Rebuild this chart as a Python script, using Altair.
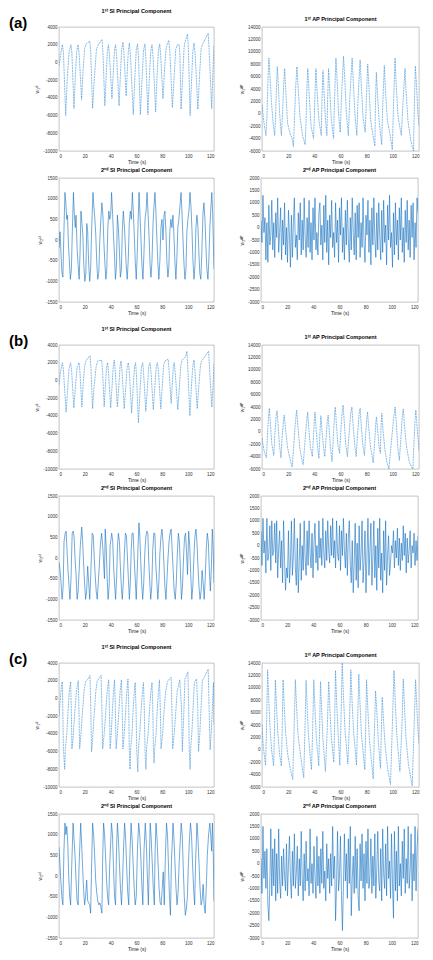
import altair as alt
import pandas as pd

FONT = "Liberation Sans"

# ---------------- (a) ----------------
a_si1_t = [0, 1.2, 2.6, 3.4, 5.2, 6.5, 7.8, 9.3, 10.0, 11.6, 12.8, 13.8, 14.8, 15.6, 17.5,
           18.7, 19.8, 21.0, 23.8, 24.5, 26.0, 27.5, 29.0, 30.5, 33.3, 34.0, 35.5,
           36.7, 37.5, 38.3, 39.0, 41.0, 42.2, 43.0, 43.8, 44.6, 46.5, 47.6, 48.5, 49.5, 50.2, 52.0,
           53.0, 53.8, 54.5, 55.3, 57.5, 58.8, 59.8, 60.8, 61.5, 63.0, 64.3, 65.4, 66.5, 67.2, 68.8,
           70.0, 71.0, 72.0, 72.8, 74.8, 76.0, 77.0, 78.0, 78.7, 80.5, 81.8, 83.0, 85.0, 85.8, 87.8,
           89.2, 90.3, 91.5, 93.0, 93.6, 94.5, 95.8, 96.8, 97.5, 99.5, 100.2, 101.5,
           102.7, 103.6, 104.5, 105.4, 107.5, 108.8, 110.0, 111.0, 115.5, 116.2, 118.2, 119.2, 120.0]
a_si1_v = [-400, 800, 2000, 1200, -6000, -1500, 1200, 2000, 1000, -5200, -1000, 1300, 2000, 1000, -4200,
           -800, 1500, 2100, 2400, 1400, -5200, -1500, 1500, 2000, 2600, 1200, -4900,
           -1000, 1300, 2000, 1000, -4100, -500, 1400, 2000, 800, -4900, -1200, 1500, 2300, 1200, -3800,
           -500, 1500, 2200, 900, -5900, -1500, 1400, 2100, 800, -5900, -1800, 1300, 2100, 600, -5900,
           -1500, 1200, 2000, 700, -5600, -1200, 1400, 2100, 800, -4100, -600, 1700, 2500, 1200, -5100,
           -1500, 1400, 2000, 2000, 800, -5300, -1500, 1600, 2300, 3200, 1500, -6000,
           -1800, 1200, 2200, 1000, -5300, -1500, 1500, 2000, 3300, 1500, -5200, -1000, 2000]

a_ap1_t = [0, 1.2, 3.0, 3.8, 4.5, 5.3, 6.0, 7.2, 8.5, 9.7, 10.4, 11.0, 11.7, 12.4, 13.5, 14.8,
           15.6, 16.4, 17.3, 18.0, 19.5, 21.5, 23.0, 24.0, 24.8, 25.8, 26.7, 27.4, 29.0, 31.0, 33.0,
           33.7, 34.3, 35.0, 35.8, 37.5, 39.4, 40.0, 40.6, 41.2, 42.0, 43.5, 45.3,
           45.8, 46.6, 47.3, 48.5, 49.6, 50.1, 50.9, 51.7, 53.0, 54.7,
           55.4, 56.5, 57.3, 58.5, 59.8, 60.8, 62.3, 63.2, 64.5, 66.0,
           67.2, 68.9, 69.7, 71.0, 72.5, 73.5, 75.0, 75.8, 77.2, 78.9,
           79.8, 80.8, 81.6, 83.0, 85.5, 86.3, 86.7, 87.4, 88.2, 89.5, 91.5,
           92.4, 93.5, 94.3, 95.8, 98.0, 99.6, 100.6, 101.7, 102.5, 104.0, 106.5,
           107.8, 109.3, 110.0, 111.5, 113.5, 114.6, 115.8, 116.4, 117.2, 118.0, 119.2, 120.0]
a_ap1_v = [1500, -1000, -3500, -500, 5000, 9000, 6500, 2000, -1500, -3500, -500, 4000, 7600, 5000, 0, -3500,
           -500, 4000, 7300, 4500, -1500, -3200, -4000, -5300, -1000, 4500, 7600, 5000, -500, -3500, -5000,
           -1000, 4000, 7300, 4000, -2000, -4000, -500, 4000, 7300, 4000, -1000, -3500,
           2000, 7000, 4000, -1000, -3500, 2000, 7300, 4000, -1000, -4000,
           2000, 9000, 6000, 0, -3000, 3000, 9300, 6000, 0, -3500,
           3000, 9000, 5500, 0, -3500, 3000, 8700, 5000, -500, -3000,
           2500, 8000, 5000, -1000, -4400, -5200, 1500, 6700, 3500, -1000, -5000,
           2000, 7800, 4000, -1000, -3500, -5800, 2000, 9000, 5000, -500, -3500,
           2000, 7300, 4000, -1000, -4000, -5100, -6000, 1000, 7700, 5000, 0, -2000]

a_si2_t = [0, 0.8, 1.5, 2.3, 3.0, 3.8, 4.6, 5.3, 6.0, 6.6, 7.3, 8.0, 8.8, 9.6, 10.4, 11.2, 11.9, 12.6,
           13.2, 14.0, 14.8, 15.6, 16.3, 17.0, 17.8, 18.5, 19.2, 20.0, 20.8, 21.5, 22.2, 23.0, 23.8,
           24.5, 25.3, 26.3, 27.0, 27.8, 28.5, 29.3, 30.0, 30.8, 31.6, 32.4, 33.2, 34.0, 34.8, 35.6,
           36.3, 37.0, 37.8, 38.6, 39.3, 40.0, 40.7, 41.4, 42.2, 43.0, 43.7, 44.5, 45.2, 46.0, 46.8,
           47.5, 48.3, 49.0, 49.8, 50.5, 51.3, 52.0, 52.8, 53.6, 54.4, 55.2, 56.0, 56.8, 57.5, 58.3,
           59.0, 59.8, 60.5, 61.3, 62.0, 62.7, 63.5, 64.2, 65.0, 65.8, 66.6, 67.4, 68.2, 69.0, 69.7,
           70.5, 71.2, 72.0, 72.8, 73.5, 74.3, 75.0, 75.8, 76.6, 77.3, 78.1, 78.9, 79.7, 80.5, 81.3,
           82.0, 82.8, 83.5, 84.3, 85.0, 85.8, 86.6, 87.4, 88.2, 89.0, 89.7, 90.5, 91.3, 92.0, 92.8,
           93.6, 94.5, 95.3, 96.0, 96.8, 97.5, 98.3, 99.0, 99.8, 100.6, 101.4, 102.2, 103.0, 103.7,
           104.5, 105.3, 106.0, 106.8, 107.6, 108.3, 109.0, 109.8, 110.6, 111.4, 112.2, 113.0, 113.8,
           114.5, 115.3, 116.0, 116.8, 117.6, 118.3, 119.0, 119.6, 120.0]
a_si2_v = [-200, 200, -300, -800, -900, 200, 1150, 900, 500, 600, -100, -500, -950, -700, 300, 1150, 600, 300,
           600, -200, -600, -950, -300, 700, 400, 100, -600, -1000, -800, 400, 200, -600, -1000,
           -700, 300, 1150, 800, 500, 100, -600, -950, -800, 0, 500, 900, 600, -100, -600,
           -950, -700, 300, 700, 500, 600, 1150, 700, 100, -400, -950, -600, 600, 300, -300,
           -900, -700, 200, 700, 400, -100, -600, -950, -500, 400, 700, 500, 1150, 700, 100,
           -500, -950, -400, 500, 1150, 600, 0, -600, -950, -300, 500, 700, 1150, 600, 100,
           -600, -900, -500, 400, 800, 1150, 700, 0, -600, -950, -500, 300, 500, 0, 600,
           700, 200, -500, -900, -700, 200, 500, 300, 600, 100, -500, -950, -400, 300, 500,
           800, 1150, 600, 0, -600, -950, -700, 200, 500, 700, 1150, 800, 200, -500,
           -950, -600, 300, 600, 300, -300, -800, -950, -300, 600, 900, 500, -200,
           -700, -950, -500, 300, 800, 1150, 600, -200, -700]

ap2_t = [round(i * 0.75, 2) for i in range(161)]
a_ap2_v = [300, -600, 1300, -200, 400, -1300, 200, -1400, 900, -700,
           -300, 1100, -900, 200, -1200, 600, -400, 1200, -1000, -200,
           800, -1300, 300, -700, 1000, -1100, 0, -1400, 700, -300,
           -1600, 500, -1200, 200, 1200, -800, -300, -1300, 600, -500,
           1000, -1100, 300, -900, 1200, -400, -1200, 400, -800, 1100,
           -1000, 200, -1300, 800, -500, 1200, -900, -200, -1100, 600,
           1000, -700, 100, -1300, 900, -600, 1300, -1000, 300, -1500,
           500, -400, 1100, -800, -200, -1200, 1000, -600, 300, -1400,
           800, -300, 1200, -1000, 0, -1300, 700, -700, 1100, -500,
           -1400, 400, -900, 1200, -200, -1100, 600, -1300, 900, -400,
           1000, -1200, 200, -800, 1200, -600, -1400, 500, -300, 1100,
           -1000, 300, -1500, 800, -700, 1200, -400, -1200, 600, -900,
           1000, -300, -1300, 700, -1000, 1100, -600, 100, -1500, 900,
           -500, 1300, -800, -200, -1600, 600, -1100, 1000, -700, 300,
           -1300, 800, -500, 1200, -1000, 0, -1400, 700, -600, 1100,
           -900, 300, -1200, 900, -400, 1000, -1300, 200, -800, 1200,
           600]

# ---------------- (b) ----------------
b_si1_t = [0, 1.2, 2.6, 3.4, 5.5, 6.8, 7.8, 9.0, 9.8, 11.5, 12.8, 14.0, 15.5, 16.2, 17.7,
           18.8, 19.8, 20.8, 24.0, 24.7, 26.0, 27.3, 28.8, 30.0, 33.0, 33.7, 35.0,
           36.0, 36.8, 37.6, 38.3, 40.0, 41.2, 42.0, 42.8, 43.5, 45.2, 46.4, 47.2, 48.0, 48.8, 50.5,
           51.7, 52.7, 53.7, 54.5, 56.2, 57.5, 58.5, 59.3, 60.0, 61.5, 62.8, 63.8, 64.8, 65.5, 67.2,
           68.5, 69.5, 70.5, 71.3, 73.0, 74.3, 75.3, 76.2, 77.0, 78.8, 80.0, 81.0, 82.0, 84.5, 85.2, 86.8,
           87.8, 88.5, 89.2, 90.0, 92.0, 93.2, 94.3, 95.3, 98.0, 99.0, 99.7, 101.3,
           102.5, 103.5, 104.5, 105.3, 107.0, 108.3, 109.5, 110.5, 115.8, 116.5, 118.3, 119.3, 120.0]
b_si1_v = [-500, 1000, 2000, 1200, -3600, -800, 1400, 2000, 1000, -3100, -500, 1500, 2000, 1000, -3000,
           -200, 1600, 2200, 2800, 1500, -3200, -500, 1600, 2200, 2300, 1200, -3000,
           -300, 1400, 2000, 1000, -3100, -400, 1600, 2300, 1200, -3000, -400, 1500, 2200, 1000, -3200,
           -800, 1500, 2000, 800, -3700, -500, 1500, 2000, 500, -4800, -1000, 1500, 2000, 800, -3500,
           -700, 1600, 2000, 800, -3300, -500, 1600, 2000, 1000, -3200, -500, 1700, 2200, 2400, 1200, -2600,
           -200, 1500, 2000, 800, -3300, -800, 1700, 2300, 2700, 3300, 1500, -4000,
           -800, 1500, 2300, 1000, -3200, -500, 1700, 2200, 3300, 1500, -3000, -500, 2000]

b_ap1_t = [0, 1.5, 3.3, 4.2, 5.0, 5.6, 6.2, 7.5, 9.0, 9.8, 10.8, 11.5, 12.2, 13.3, 14.5,
           15.3, 16.3, 17.0, 17.8, 19.5, 21.5, 23.0, 24.0, 25.5, 26.5, 27.2, 28.8, 30.5, 31.5,
           32.5, 34.0, 34.9, 35.6, 37.0, 38.5, 39.3, 40.0, 40.5, 41.2, 42.5, 43.5,
           44.2, 45.0, 45.7, 47.0, 48.0, 49.0, 49.9, 50.6, 51.3, 52.5, 53.5,
           54.5, 55.4, 56.0, 56.8, 58.0, 59.3, 60.2, 61.2, 62.0, 62.8, 64.0, 65.3,
           66.5, 67.8, 68.7, 69.5, 70.8, 72.0, 73.0, 74.2, 75.0, 75.8, 77.0, 78.3,
           79.2, 80.0, 80.7, 81.5, 83.0, 85.0, 86.2, 87.0, 87.5, 88.3, 89.5, 90.5,
           91.0, 91.6, 92.4, 94.0, 95.5, 97.0, 98.5, 100.5, 101.8, 102.6, 103.8, 105.0,
           106.0, 107.2, 108.0, 108.8, 110.5, 112.5, 114.5, 115.3, 116.0, 117.0, 117.6, 118.3, 119.2, 120.0]
b_ap1_v = [-1000, -3000, -4200, -500, 2500, 3800, 2000, -2000, -3800, -500, 2500, 3400, 1500, -2000, -4200,
           -1000, 1500, 2700, 800, -2500, -4500, -5700, -3000, 1500, 3500, 1500, -2500, -4500, -5300,
           -2500, 1500, 3200, 1000, -2500, -4000, -1000, 2000, 3200, 1000, -2500, -4300,
           -500, 2600, 500, -2500, -4000, -1000, 1800, 2700, 500, -3000, -4800,
           -1000, 2500, 4000, 1500, -2000, -3500, 0, 3000, 4300, 1800, -2000, -4000,
           -500, 3000, 4000, 1500, -2000, -4000, -500, 2800, 3800, 1200, -2000, -3800,
           -500, 2000, 3200, 800, -2500, -5000, -1500, 1500, 2400, 500, -2500, -3500,
           1000, 3000, 500, -3000, -5000, -6000, -2500, 2000, 4000, 1500, -2500, -4600,
           -1500, 2500, 3700, 1200, -2500, -4800, -5800, -6000, -2500, 2000, 3500, 1500, -1000, -3000]

b_si2_t = [0, 0.8, 1.6, 2.4, 3.2, 3.9, 4.8, 5.5, 6.2, 7.0, 7.8, 8.5, 9.3, 10.2, 11.0, 11.7, 12.4, 13.2,
           14.0, 14.8, 15.6, 16.5, 17.6, 18.3, 19.0, 19.8, 20.6, 21.4, 22.2, 23.0, 23.8, 24.6, 25.7,
           26.5, 27.3, 28.0, 28.8, 29.6, 30.4, 31.2, 32.0, 33.0, 33.8, 34.5, 35.2, 35.8, 36.5, 37.3,
           38.0, 38.8, 39.6, 40.8, 41.6, 42.3, 43.0, 43.8, 44.6, 45.3, 46.0, 46.8, 47.5, 48.3, 49.0,
           49.8, 50.6, 51.4, 52.2, 53.0, 53.7, 54.5, 55.2, 55.9, 56.6, 57.4, 58.2, 59.0, 59.8, 60.5,
           61.2, 61.9, 62.6, 63.3, 64.0, 64.8, 65.6, 66.4, 67.2, 68.0, 68.8, 69.5, 70.3, 71.0, 71.8,
           72.6, 73.4, 74.2, 75.0, 75.8, 76.5, 77.3, 78.1, 78.9, 79.7, 80.5, 81.3, 82.0, 82.8, 83.6,
           84.4, 85.2, 86.0, 86.8, 87.6, 88.4, 89.2, 90.0, 90.8, 91.6, 92.4, 93.2, 94.0, 94.8, 95.6,
           96.4, 97.2, 98.0, 98.8, 99.5, 100.4, 101.2, 102.0, 102.8, 103.6, 104.4, 105.2, 106.0,
           106.8, 107.6, 108.4, 109.2, 110.0, 110.8, 111.6, 112.4, 113.2, 114.0, 114.8, 115.6, 116.4,
           117.2, 118.0, 118.7, 119.4, 120.0]
b_si2_v = [-100, -300, -600, -1000, -700, 400, 600, 650, 200, -300, -700, -1000, -500, 600, 650, 500, 0, -400,
           -1000, -800, -300, 300, 750, 400, -100, -600, -1000, -800, -200, -600, -1000, -400, 600,
           550, 0, -400, -800, -1000, -600, -200, 300, 600, 300, -100, -500, 700, 300, -500,
           -1000, -700, 300, 600, 400, -200, -600, -1000, -500, 300, 600, 400, -200, -700, -1000,
           -600, 100, 600, 550, 0, -500, -1000, -600, 200, 600, 600, 0, -500, -1000, -400,
           300, 850, 500, -100, -600, -1000, -600, 100, 500, 650, 600, -100, -600, -1000, -700,
           200, 600, 600, -200, -600, -1000, -600, 100, 500, 700, 400, -200, -700, -1000, -500,
           0, 400, 600, 700, 200, -300, -800, -1000, -600, 100, 600, 400, -300, -1000, -700,
           0, 500, 600, 100, -400, 650, 300, -400, -1000, -700, 0, 500, 700,
           400, -200, -700, -1000, -800, -300, -600, -1000, -500, 200, 600, 400, -300,
           -800, -200, 700, 200, -600]

b_ap2_v = [600, -800, 1100, -300, 200, -1100, 1100, -600, -300, 800,
           -1000, 1000, -400, -200, 900, -700, 1000, -1300, -100, 600,
           -900, 200, -1500, 1000, -600, -1800, -900, -1300, 600, -1500,
           -700, 1000, -1200, -400, 1100, -900, -1600, 300, -1900, -600,
           900, -1400, 0, -1000, 1000, -500, -1200, 600, -800, 1000,
           -300, -900, 500, -1300, 100, 900, -700, 0, -1000, 1000,
           -500, 300, -800, 1100, -300, -900, 600, -600, 1000, -200,
           -700, 800, -400, 1100, -500, 200, -900, 1000, -300, -600,
           800, -1000, 600, -400, 1100, -200, -900, 500, -1200, 300,
           1000, -800, -1500, 200, -1900, -700, 900, -1400, 100, -1700,
           800, -1000, -300, 1000, -1500, -600, 600, -1900, -400, 1100,
           -1200, -200, 900, -1600, -500, 1000, -1300, 0, -1800, 700,
           -900, 1100, -1400, -300, -1900, 600, -1000, 1000, -1600, -400,
           400, -1200, -700, 0, -300, 600, -900, 200, -500, 700,
           -800, 300, -1000, 100, -600, 800, -400, 500, -1100, 300,
           -700, -200, 600, -900, 0, -300, 500, -800, 200, -600,
           400]

# ---------------- (c) ----------------
c_si1_t = [0, 0.9, 1.8, 2.6, 3.4, 4.4, 4.9, 6.0, 7.0, 8.0, 9.0, 9.5, 10.0,
           11.0, 12.2, 13.4, 14.9, 15.4, 16.0, 17.0, 18.2, 19.4, 20.6, 22.5, 24.0, 24.6, 25.2,
           26.3, 27.4, 28.5, 29.5, 31.0, 32.6, 33.2, 33.8, 35.0, 36.2, 37.3, 38.5, 39.0, 39.6,
           40.5, 41.4, 42.2, 43.0, 43.6, 44.2, 45.2, 46.3, 47.3, 48.3, 48.9, 49.5,
           50.5, 51.6, 52.5, 53.4, 54.0, 54.4, 55.0, 55.5, 56.5, 57.3, 58.2, 59.0, 59.6, 60.2, 61.0, 61.5,
           62.5, 63.5, 64.5, 65.4, 66.0, 66.6, 67.3, 67.8, 69.0, 70.0, 71.0, 72.0, 72.6, 73.1, 73.6, 74.1,
           75.2, 76.0, 77.0, 77.8, 78.4, 79.0, 80.2, 81.3, 82.6, 84.0, 85.5, 86.8, 87.4, 88.0,
           89.2, 90.4, 91.5, 93.5, 94.8, 95.5, 96.0, 96.8, 97.5, 99.8, 100.4, 100.8, 101.5, 102.0,
           103.0, 104.0, 104.8, 106.5, 107.4, 108.0, 109.0, 110.0, 111.0, 113.5, 115.5, 116.2, 117.0,
           118.0, 119.0, 119.6, 120.0]
c_si1_v = [-2000, -300, 1300, 1900, -5600, -8000, -5700, -4000, -1500, 800, 1900, -1000, -5700,
           -4200, -1600, 700, 2000, -1000, -5700, -4000, -1500, 800, 1900, 2200, 2600, -1000, -6000,
           -4000, -1500, 800, 1900, 2300, 2600, -1000, -5700, -4000, -1500, 800, 2100, -1000, -5700,
           -3800, -1200, 800, 2100, -1000, -5700, -4000, -1500, 800, 2100, -1000, -5700,
           -4000, -1500, 800, 2200, -1000, -5700, -8000, -5600, -4000, -1500, 600, 1800, -1000, -5800, -8300, -5600,
           -4000, -1500, 600, 1800, -1000, -5800, -8000, -5600, -4000, -1500, 600, 1800, -1000, -5700, -7300, -5600,
           -4000, -1500, 800, 2100, -1000, -5700, -4000, -1500, 800, 1900, 2200, 2400, -1000, -5700,
           -4000, -1500, 800, 2100, -1000, -6000, -4000, -1000, 2200, 3000, -1000, -5800, -8000, -5600,
           -3500, -500, 1800, 2200, -1000, -6000, -4000, -1000, 2000, 2700, 3300, -1000, -5800,
           -3500, -200, 1800, -3000]

c_ap1_t = [0, 1.0, 2.7, 3.4, 4.3, 5.0, 6.0, 7.3, 8.9, 9.5, 10.2, 11.0, 12.0, 13.3, 14.8,
           15.4, 16.1, 16.9, 18.0, 19.5, 21.5, 23.5, 24.5, 25.5, 26.3, 27.5, 29.5, 31.9,
           32.8, 33.7, 34.5, 35.5, 36.8, 37.8, 38.7, 39.6, 40.4, 41.5, 43.4,
           44.0, 44.7, 45.5, 46.5, 48.5, 49.8, 51.0, 51.8, 53.0, 54.9,
           55.5, 56.2, 57.0, 58.2, 59.5, 60.3, 61.3, 62.2, 63.5, 65.6,
           66.8, 67.9, 68.8, 70.0, 72.2, 73.0, 74.0, 74.8, 76.0, 78.6,
           79.2, 79.9, 80.8, 82.0, 83.5, 85.0, 85.8, 86.8, 87.8, 89.0, 90.6,
           91.2, 91.9, 92.8, 94.0, 96.0, 98.2, 99.5, 100.9, 101.8, 103.0, 105.4,
           106.8, 108.0, 108.9, 110.0, 112.0, 114.8, 116.0, 117.4, 118.3, 119.3, 120.0]
c_ap1_v = [4000, 500, -2500, 3000, 12900, 9000, 4000, 0, -2600, 3000, 11300, 7500, 3000, -500, -2600,
           3000, 11300, 7500, 3000, -500, -3000, -4800, 3000, 11300, 7500, 2500, -1000, -4500,
           3000, 11200, 7000, 2500, -1000, -3200, 3000, 11300, 7000, 2000, -2600,
           3000, 11000, 7000, 2000, -3500, 3000, 11000, 7000, 2000, -2000,
           4000, 12800, 8000, 2500, -2500, 4000, 14000, 9000, 3000, -2300,
           4000, 12900, 8000, 3000, -2500, 4000, 12200, 8000, 2500, -3200,
           3000, 11300, 7000, 2000, -1500, -4700, 2000, 9500, 6000, 1000, -3000,
           3000, 8500, 5000, 1000, -3000, -5600, 3000, 12800, 8000, 2500, -3500,
           3000, 11400, 7000, 2000, -2500, -5800, 2000, 11300, 7000, 3000, 1000]

c_si2_t = [0, 0.7, 1.4, 2.2, 3.0, 3.8, 4.6, 5.3, 6.0, 6.8, 7.5, 8.3, 9.0, 9.8, 10.9, 11.6, 12.4,
           13.2, 14.0, 14.8, 15.6, 16.8, 17.5, 18.3, 19.0, 19.8, 20.6, 21.4, 22.2, 23.0, 23.8, 24.5,
           25.2, 26.0, 26.8, 27.6, 28.4, 29.2, 30.0, 30.8, 31.6, 32.4, 33.2, 33.8, 34.5, 35.3, 36.0,
           36.8, 37.6, 38.4, 39.2, 40.0, 40.6, 41.4, 42.2, 43.0, 43.8, 44.5, 45.2, 46.0, 46.8, 47.6,
           48.4, 49.2, 50.0, 50.8, 51.6, 52.4, 53.2, 54.0, 54.8, 55.8, 56.6, 57.4, 58.2, 59.0, 59.8,
           60.8, 61.7, 62.5, 63.3, 64.1, 64.9, 65.8, 66.8, 67.6, 68.4, 69.2, 69.9, 70.6, 71.4, 72.2,
           73.0, 73.8, 74.4, 75.1, 75.9, 76.7, 77.5, 78.3, 79.1, 79.9, 80.7, 81.5, 82.3, 83.2, 84.0,
           84.8, 85.5, 86.3, 87.0, 88.3, 89.0, 89.8, 90.6, 91.4, 92.2, 93.0, 93.8, 94.6, 95.4, 96.2,
           97.0, 97.8, 98.6, 99.4, 100.2, 101.0, 101.8, 102.6, 103.4, 104.2, 105.0, 105.8, 106.8,
           107.6, 108.4, 109.2, 110.0, 110.8, 111.6, 112.4, 113.2, 114.0, 114.8, 115.8, 116.8,
           117.6, 118.2, 118.8, 119.4, 120.0]
c_si2_v = [700, 300, -100, -500, -700, 600, 1280, 1000, 1200, 800, 0, -500, -700, 200, 1280, 900, 500,
           -100, -600, -700, 300, 1280, 800, 200, -300, -700, -500, -100, -600, -650, -700, -900,
           200, 1280, 1000, 500, -100, -400, -600, -700, -650, -750, -900, 400, 1280, 1000, 500,
           -100, -500, -700, 200, 800, 1280, 1000, 200, -500, -700, 600, 1280, 900, 300, -300,
           -700, -100, 700, 1280, 900, 200, -400, -700, 400, 1280, 900, 300, -300, -700, -500,
           700, 1280, 1000, 500, -200, -700, 600, 1280, 800, 0, -700, 300, 1280, 900, 300,
           -300, -700, 600, 1280, 900, 300, -300, -650, -700, -300, 100, -700, 400, 1280, 1000,
           200, -500, -950, 300, 1280, 900, 300, -300, -700, -400, 300, 800, 1280, 1000, 200,
           -500, -950, -800, -500, 300, 900, 1280, 1000, 300, -300, -700, 400, 1280,
           900, 300, -300, -700, -600, -200, -700, -900, -300, 500, 1000, 1280,
           900, 600, 1280, 600, -600]

c_ap2_v = [200, -1200, 1500, -600, 500, -1000, 600, -1600, -2300, -800,
           1400, -1300, 600, -900, 1000, -1500, 400, -1200, 1400, -700,
           -1400, 300, -900, 600, -500, -1100, 800, -1300, 0, 1100,
           -600, -1400, 500, -900, 1200, -1000, -400, 700, -1300, 200,
           -900, 1300, -600, -1500, 400, -1100, 900, -700, -200, -1300,
           1400, -800, 0, -1200, 700, -500, -1400, 1100, -900, 300,
           -1200, 600, -800, 1300, -1000, -300, -1500, 800, -600, 200,
           -1200, 400, -900, 1500, -600, 300, -2300, -800, 1300, -1100,
           -500, 1100, -1300, -2700, -900, 1200, -700, 400, -1400, 1000,
           -800, 1500, -2100, -600, 300, -1200, 1100, -1000, 600, -1300,
           -1900, 800, -700, 1200, -1000, 400, -1500, 900, -800, 1400,
           -1000, -500, 1000, -1200, 300, -900, 1200, -1400, -200, 1300,
           -700, -1100, 600, -1500, 1400, -400, -1000, 800, -1300, 1500,
           -600, 100, -1400, 1200, -800, -2200, 1300, -1100, 500, -1500,
           1500, -900, 0, -1300, 900, -600, 1400, -1200, 200, -800,
           1500, -1000, -300, 1200, -1500, 400, -700, 1500, -1100, 600,
           1400]

x_ticks = [0, 20, 40, 60, 80, 100, 120]
SI1_DOM, SI1_STEP = [-10000, 4000], 2000
AP1_DOM, AP1_STEP = [-6000, 14000], 2000
SI2_DOM, SI2_STEP = [-1500, 1500], 500
AP2_DOM, AP2_STEP = [-3000, 2000], 500

T_SI1 = "1ˢᵗ SI Principal Component"
T_AP1 = "1ˢᵗ AP Principal Component"
T_SI2 = "2ⁿᵈ SI Principal Component"
T_AP2 = "2ⁿᵈ AP Principal Component"
Y_SI1 = "w₁ˢᴵ"
Y_AP1 = "w₁ᴬᴾ"
Y_SI2 = "w₂ˢᴵ"
Y_AP2 = "w₂ᴬᴾ"

C1 = "#3a8fd6"
C2 = "#1470c0"


def panel(t, v, title, ytitle, ydom, ystep, color, width, label=None, label_y=-4, dash=None):
    df = pd.DataFrame({"t": t, "v": v})
    yvals = list(range(ydom[0], ydom[1] + 1, ystep))
    mk = dict(color=color, strokeWidth=0.6, clip=True)
    if dash:
        mk["strokeDash"] = dash
    line = alt.Chart(df).mark_line(**mk).encode(
        x=alt.X("t:Q", scale=alt.Scale(domain=[0, 120], nice=False, zero=False),
                axis=alt.Axis(values=x_ticks, title="Time (s)", titlePadding=2)),
        y=alt.Y("v:Q", scale=alt.Scale(domain=ydom, nice=False, zero=False),
                axis=alt.Axis(values=yvals, title=ytitle, format="d",
                              labelExpr="replace(datum.label, '−', '-')")),
    )
    layers = [line]
    if label is not None:
        lab = alt.Chart(pd.DataFrame({"s": [label]})).mark_text(
            fontSize=15, fontWeight="bold", font=FONT, align="left", baseline="middle", color="black"
        ).encode(text="s:N", x=alt.value(-50), y=alt.value(label_y))
        layers.append(lab)
    return alt.layer(*layers).properties(
        width=width, height=124,
        title=alt.TitleParams(title, fontSize=5.5, fontWeight="bold", font=FONT, offset=2, color="black"),
    )


def group(lbl, si1_t, si1_v, ap1_t, ap1_v, si2_t, si2_v, ap2_v):
    r1 = alt.hconcat(
        panel(si1_t, si1_v, T_SI1, Y_SI1, SI1_DOM, SI1_STEP, C1, 155, lbl, dash=[2, 0.7]),
        panel(ap1_t, ap1_v, T_AP1, Y_AP1, AP1_DOM, AP1_STEP, C1, 157, dash=[2, 0.7]),
        spacing=24,
    )
    r2 = alt.hconcat(
        panel(si2_t, si2_v, T_SI2, Y_SI2, SI2_DOM, SI2_STEP, C2, 155, " ", label_y=62),
        panel(ap2_t, ap2_v, T_AP2, Y_AP2, AP2_DOM, AP2_STEP, C2, 157),
        spacing=24,
    )
    return alt.vconcat(r1, r2, spacing=2)


chart = alt.vconcat(
    group("(a)", a_si1_t, a_si1_v, a_ap1_t, a_ap1_v, a_si2_t, a_si2_v, a_ap2_v),
    group("(b)", b_si1_t, b_si1_v, b_ap1_t, b_ap1_v, b_si2_t, b_si2_v, b_ap2_v),
    group("(c)", c_si1_t, c_si1_v, c_ap1_t, c_ap1_v, c_si2_t, c_si2_v, c_ap2_v),
    spacing=10,
).properties(padding=0, background="white").configure_view(
    stroke="#9a9a9a", strokeWidth=0.6
).configure_axis(
    labelFont=FONT, titleFont=FONT, labelFontSize=4.5, titleFontSize=5,
    labelColor="#333", titleColor="#222", titleFontWeight="normal",
    ticks=False, domain=False, grid=False, labelPadding=2, titlePadding=3,
)

chart.save("out.html", embed_options={"renderer": "svg", "actions": False})
